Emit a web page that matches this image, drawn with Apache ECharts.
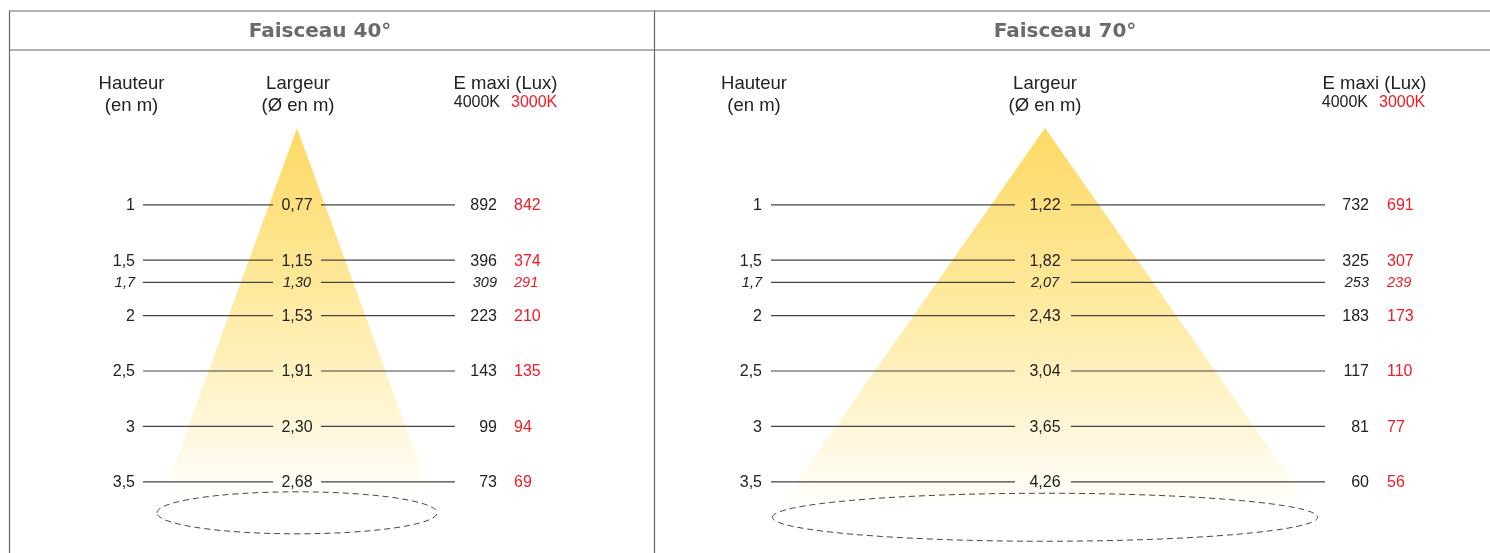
<!DOCTYPE html>
<html><head><meta charset="utf-8">
<script src="https://cdn.jsdelivr.net/npm/echarts@6/dist/echarts.min.js"></script>
<style>html,body{margin:0;padding:0;background:#fff}#c{width:1490px;height:553px}</style>
</head><body><div id="c"></div>
<script>
// ---- data ----
const heights = [1, 1.5, 1.7, 2, 2.5, 3, 3.5];
const italicHeights = [1.7];
const width40 = [0.77, 1.15, 1.30, 1.53, 1.91, 2.30, 2.68];
const lux40_4000 = [892, 396, 309, 223, 143, 99, 73];
const lux40_3000 = [842, 374, 291, 210, 135, 94, 69];
const width70 = [1.22, 1.82, 2.07, 2.43, 3.04, 3.65, 4.26];
const lux70_4000 = [732, 325, 253, 183, 117, 81, 60];
const lux70_3000 = [691, 307, 239, 173, 110, 77, 56];
const beams = [40, 70];
const titles = ['Faisceau 40°', 'Faisceau 70°'];

// ---- layout ----
const K = 110.8;            // px per metre
const TOP = 94;             // y of height 0
const FONT = 'Liberation Sans, Arial, sans-serif';
const panels = [
  { left: 9, width: 645, cx: 297, apex: 0.307, coneEnd: 3.57, ell: 3.78, ry: 21,
    hRight: -162, l1: [-154, -24], l2: [24, 158], luxA: 200, luxB: 217,
    widths: width40, luxA_v: lux40_4000, luxB_v: lux40_3000 },
  { left: 654, width: 836, cx: 1045, apex: 0.307, coneEnd: 3.66, ell: 3.82, ry: 24,
    hRight: -283, l1: [-274, -30], l2: [26, 280], luxA: 324, luxB: 342,
    widths: width70, luxA_v: lux70_4000, luxB_v: lux70_3000 }
];

const fmt = v => String(v).replace('.', ',');
const fmt2 = v => v.toFixed(2).replace('.', ',');

const chart = echarts.init(document.getElementById('c'), null, { renderer: 'canvas' });

const grids = [], xAxes = [], yAxes = [], series = [];
panels.forEach((p, i) => {
  grids.push({ left: p.left, top: TOP, width: p.width, height: 4 * K, containLabel: false });
  xAxes.push({ gridIndex: i, type: 'value', show: false, min: -(p.cx - p.left) / K, max: (p.left + p.width - p.cx) / K });
  yAxes.push({ gridIndex: i, type: 'value', show: false, inverse: true, min: 0, max: 4 });
  const tanH = Math.tan(beams[i] / 2 * Math.PI / 180);
  // cone
  series.push({
    type: 'custom', xAxisIndex: i, yAxisIndex: i, z: 1, silent: true,
    data: [[p.apex, p.coneEnd]],
    renderItem: (params, api) => {
      const a = api.value(0), b = api.value(1);
      const top = api.coord([0, a]);
      const bl = api.coord([-(b - a) * tanH, b]);
      const br = api.coord([(b - a) * tanH, b]);
      return { type: 'polygon', shape: { points: [top, bl, br] },
        style: { fill: new echarts.graphic.LinearGradient(0, 0, 0, 1, [
          { offset: 0, color: '#fdd965' }, { offset: 0.45, color: '#fee99c' },
          { offset: 0.8, color: '#fff6d6' }, { offset: 1, color: '#fffefa' }]) } };
    }
  });
  // ellipse (ground)
  series.push({
    type: 'custom', xAxisIndex: i, yAxisIndex: i, z: 2, silent: true,
    data: [[p.ell]],
    renderItem: (params, api) => {
      const h = api.value(0);
      const c = api.coord([0, h]);
      const e = api.coord([(h - p.apex) * tanH, h]);
      return { type: 'ellipse', shape: { cx: c[0], cy: c[1], rx: e[0] - c[0], ry: p.ry },
        style: { fill: null, stroke: '#444', lineWidth: 1, lineDash: [6, 4] } };
    }
  });
  // rows
  series.push({
    type: 'custom', xAxisIndex: i, yAxisIndex: i, z: 3, silent: true,
    data: heights.map((h, j) => [h, p.widths[j], p.luxA_v[j], p.luxB_v[j]]),
    renderItem: (params, api) => {
      const h = api.value(0);
      const c = api.coord([0, h]);
      const x = c[0], y = c[1];
      const it = italicHeights.indexOf(h) >= 0;
      const font = (it ? 'italic 14.5px ' : '16px ') + FONT;
      const txt = (t, tx, al, fill) => ({ type: 'text', x: tx, y: y + 1,
        style: { text: t, font: font, fill: fill, align: al, textAlign: al, verticalAlign: 'middle', textVerticalAlign: 'middle' } });
      return { type: 'group', children: [
        { type: 'line', shape: { x1: x + p.l1[0], y1: y, x2: x + p.l1[1], y2: y }, style: { stroke: '#444', lineWidth: 1.2 } },
        { type: 'line', shape: { x1: x + p.l2[0], y1: y, x2: x + p.l2[1], y2: y }, style: { stroke: '#444', lineWidth: 1.2 } },
        txt(fmt(h), x + p.hRight, 'right', '#222'),
        txt(fmt2(api.value(1)), x, 'center', '#222'),
        txt(String(api.value(2)), x + p.luxA, 'right', '#222'),
        txt(String(api.value(3)), x + p.luxB, 'left', '#ee1c25')
      ] };
    }
  });
});

const hdr = (t, x, y, al, fill, size) => ({ type: 'text', x: x, y: y, z: 10, silent: true,
  style: { text: t, font: size + 'px ' + FONT, fill: fill, align: al, textAlign: al, verticalAlign: 'middle', textVerticalAlign: 'middle' } });

const graphics = [
  { type: 'line', shape: { x1: 9, y1: 11, x2: 1490, y2: 11 }, style: { stroke: '#666', lineWidth: 1.2 } },
  { type: 'line', shape: { x1: 9, y1: 50, x2: 1490, y2: 50 }, style: { stroke: '#666', lineWidth: 1.2 } },
  { type: 'line', shape: { x1: 9.5, y1: 11, x2: 9.5, y2: 553 }, style: { stroke: '#666', lineWidth: 1.2 } },
  { type: 'line', shape: { x1: 654.5, y1: 11, x2: 654.5, y2: 553 }, style: { stroke: '#666', lineWidth: 1.2 } },
  hdr('Hauteur', 131.5, 84, 'center', '#222', 18.5), hdr('(en m)', 131.5, 106, 'center', '#222', 18.5),
  hdr('Largeur', 298, 84, 'center', '#222', 18.5), hdr('(Ø en m)', 298, 106, 'center', '#222', 18.5),
  hdr('E maxi (Lux)', 505.5, 84, 'center', '#222', 18.5),
  hdr('4000K', 500, 103, 'right', '#222', 16), hdr('3000K', 511, 103, 'left', '#ee1c25', 16),
  hdr('Hauteur', 754, 84, 'center', '#222', 18.5), hdr('(en m)', 754, 106, 'center', '#222', 18.5),
  hdr('Largeur', 1045, 84, 'center', '#222', 18.5), hdr('(Ø en m)', 1045, 106, 'center', '#222', 18.5),
  hdr('E maxi (Lux)', 1374.5, 84, 'center', '#222', 18.5),
  hdr('4000K', 1368, 103, 'right', '#222', 16), hdr('3000K', 1379, 103, 'left', '#ee1c25', 16)
];

chart.setOption({
  animation: false,
  title: [
    { text: titles[0], left: 315, top: 17, textAlign: 'center', textStyle: { fontFamily: 'DejaVu Sans, sans-serif', fontWeight: 'bold', fontSize: 20, color: '#6a6a6a' } },
    { text: titles[1], left: 1060, top: 17, textAlign: 'center', textStyle: { fontFamily: 'DejaVu Sans, sans-serif', fontWeight: 'bold', fontSize: 20, color: '#6a6a6a' } }
  ],
  grid: grids, xAxis: xAxes, yAxis: yAxes, series: series, graphic: graphics
});
</script></body></html>
